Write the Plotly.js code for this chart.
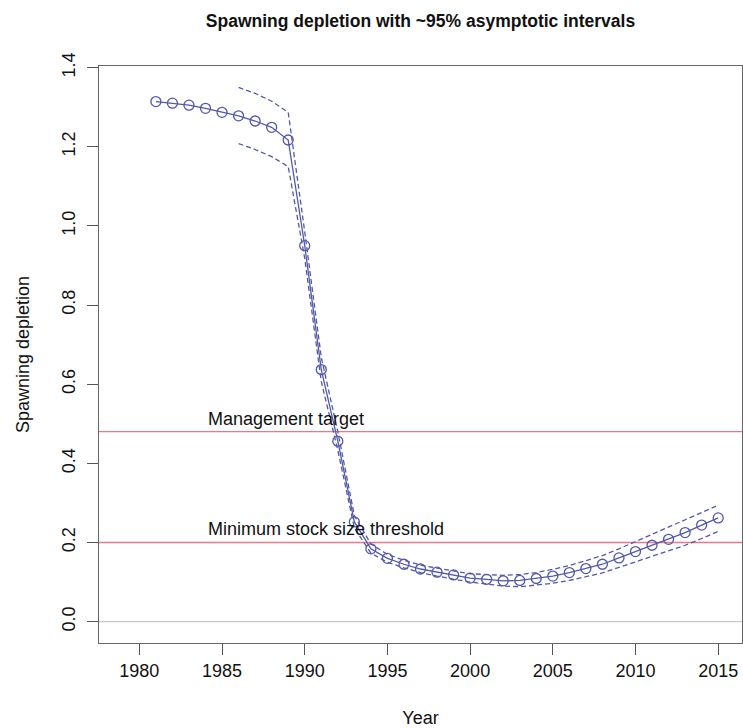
<!DOCTYPE html>
<html>
<head>
<meta charset="utf-8">
<script src="https://cdn.plot.ly/plotly-3.0.1.min.js"></script>
<style>html,body{margin:0;padding:0;background:#fff;}#chart{width:743px;height:728px;}</style>
</head>
<body>
<div id="chart"></div>
<script>
// Estimated spawning depletion by year
const years = [1981,1982,1983,1984,1985,1986,1987,1988,1989,1990,1991,1992,1993,1994,1995,1996,1997,1998,1999,2000,2001,2002,2003,2004,2005,2006,2007,2008,2009,2010,2011,2012,2013,2014,2015];
const depletion = [1.314,1.310,1.305,1.297,1.287,1.278,1.265,1.249,1.217,0.950,0.637,0.456,0.252,0.184,0.160,0.145,0.133,0.125,0.118,0.110,0.107,0.103,0.104,0.109,0.115,0.124,0.134,0.145,0.161,0.177,0.193,0.208,0.225,0.244,0.262];
// ~95% asymptotic intervals
const ciYears = [1986,1987,1988,1989,1990,1991,1992,1993,1994,1995,1996,1997,1998,1999,2000,2001,2002,2003,2004,2005,2006,2007,2008,2009,2010,2011,2012,2013,2014,2015];
const upper = [1.350,1.335,1.315,1.287,0.985,0.668,0.480,0.268,0.196,0.170,0.155,0.143,0.135,0.128,0.121,0.119,0.117,0.119,0.124,0.132,0.142,0.154,0.167,0.184,0.202,0.220,0.238,0.256,0.275,0.294];
const lower = [1.208,1.193,1.175,1.150,0.918,0.607,0.433,0.237,0.173,0.150,0.136,0.124,0.115,0.108,0.100,0.095,0.090,0.088,0.092,0.097,0.104,0.113,0.123,0.137,0.151,0.165,0.178,0.193,0.210,0.228];
// Reference levels
const refLevels = [0.48, 0.2];
const refLabels = ["Management target", "Minimum stock size threshold"];
const refLabelX = 1984;
const xTicks = [1980,1985,1990,1995,2000,2005,2010,2015];
const yTicks = [0.0,0.2,0.4,0.6,0.8,1.0,1.2,1.4];

const blue = "rgb(82,88,172)";
const font = "Liberation Sans, Arial, Helvetica, sans-serif";

const traces = [
  {x: ciYears, y: upper, mode: "lines", line: {color: blue, width: 1.3, dash: "5px,3px"}, hoverinfo: "skip", showlegend: false},
  {x: ciYears, y: lower, mode: "lines", line: {color: blue, width: 1.3, dash: "5px,3px"}, hoverinfo: "skip", showlegend: false},
  {x: years, y: depletion, mode: "lines+markers", line: {color: blue, width: 1.3},
   marker: {symbol: "circle-open", size: 10, color: blue, line: {width: 1.3, color: blue}}, showlegend: false}
];

const shapes = [
  {type: "line", xref: "paper", x0: 0, x1: 1, yref: "y", y0: 0, y1: 0, line: {color: "#c8c8c8", width: 1.2}, layer: "below"}
].concat(refLevels.map(v => ({type: "line", xref: "paper", x0: 0, x1: 1, yref: "y", y0: v, y1: v, line: {color: "#f0758b", width: 1.3}, layer: "below"})));

const annotations = refLevels.map((v, i) => ({
  x: refLabelX, y: v, xref: "x", yref: "y", text: refLabels[i], showarrow: false,
  xanchor: "left", yanchor: "bottom", font: {family: font, size: 18, color: "#111"}, yshift: 1
}));

const layout = {
  width: 743, height: 728,
  margin: {l: 99, r: 1, t: 66, b: 85},
  paper_bgcolor: "#fff", plot_bgcolor: "#fff",
  font: {family: font, size: 18, color: "#111"},
  title: {text: "<b>Spawning depletion with ~95% asymptotic intervals</b>", font: {family: font, size: 17.5, color: "#111"},
          xref: "paper", x: 0.5, xanchor: "center", yref: "container", y: 0.972, yanchor: "middle"},
  xaxis: {range: [1977.56, 2016.44], tickvals: xTicks, ticktext: xTicks.map(String), ticks: "outside", ticklen: 11, tickwidth: 1,
          tickcolor: "#555", showline: true, linecolor: "#666", linewidth: 1.3, mirror: true, showgrid: false, zeroline: false,
          tickfont: {family: font, size: 18, color: "#111"},
          title: {text: "Year", font: {family: font, size: 18, color: "#111"}, standoff: 31}, automargin: false},
  yaxis: {range: [-0.054, 1.404], tickvals: yTicks, ticktext: yTicks.map(v => v.toFixed(1)), ticks: "outside", ticklen: 11, tickwidth: 1,
          tickcolor: "#555", showline: true, linecolor: "#666", linewidth: 1.3, mirror: true, showgrid: false, zeroline: false,
          tickangle: -90, tickfont: {family: font, size: 18, color: "#111"}, ticklabelstandoff: 5,
          title: {text: "Spawning depletion", font: {family: font, size: 18, color: "#111"}, standoff: 24}, automargin: false},
  shapes: shapes,
  annotations: annotations
};

Plotly.newPlot("chart", traces, layout, {displayModeBar: false, staticPlot: true});
</script>
</body>
</html>
